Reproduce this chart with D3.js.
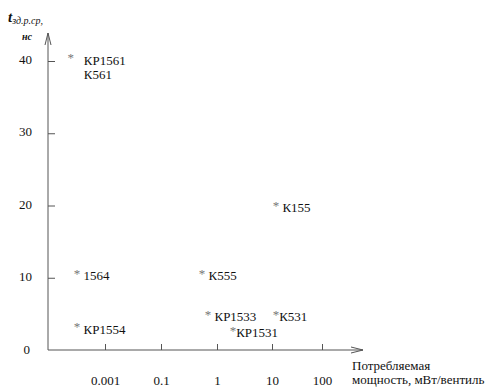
<!DOCTYPE html>
<html lang="ru">
<head>
<meta charset="utf-8">
<title>Задержка и потребляемая мощность серий ИС</title>
<script src="https://cdnjs.cloudflare.com/ajax/libs/d3/7.8.5/d3.min.js"></script>
<style>
  body { margin: 0; background: #fff; }
  svg { font-family: "Liberation Serif", "Times New Roman", serif; }
  .chip { white-space: pre; font-size: 13px; fill: #111; }
  .axis text { font-family: "Liberation Serif", "Times New Roman", serif; font-size: 13px; fill: #111; }
  .axis line { stroke: #555; }
</style>
</head>
<body>
<div class="chart"></div>
<script>
// x axis: power, mW per gate (axis is not a true log scale, ticks are evenly spaced)
var powerTicks = [0.001, 0.1, 1, 10, 100];
var powerTickLabels = ["0.001", "0.1", "1", "10", "100"];
// y axis: propagation delay, ns
var delayTicks = [0, 10, 20, 30, 40];

// chip series, as labelled on the chart
var chips = ["*   КР1561\n     К561", "* 1564", "* КР1554", "* К555", "* КР1533", "*КР1531", "*К531", "* К155"];
var power = [0.00006, 0.0001, 0.0001, 0.54, 0.69, 1.95, 12, 12];
var delay = [40.5, 10.7, 3.3, 10.7, 5, 2.8, 5, 20.1];

var svgWidth = 487;
var svgHeight = 392;

var svg = d3.select(".chart")
  .append("svg")
  .attr("width", svgWidth)
  .attr("height", svgHeight);

var originX = 48, originY = 350;

// piecewise log scale so the ticks land where the drawing put them
var x = d3.scaleLog()
  .domain(powerTicks)
  .range([105, 161, 217, 272, 322]);

var y = d3.scaleLinear()
  .domain([0, 40])
  .range([originY, 61]);

// arrow heads
var defs = svg.append("defs");
defs.append("marker")
  .attr("id", "arrow")
  .attr("viewBox", "0 -4 12 8")
  .attr("refX", 12).attr("refY", 0)
  .attr("markerWidth", 12).attr("markerHeight", 8)
  .attr("markerUnits", "userSpaceOnUse")
  .attr("orient", "auto")
  .append("path")
  .attr("d", "M0,-3L12,0L0,3")
  .attr("fill", "none")
  .attr("stroke", "#555")
  .attr("stroke-width", 1);

// axes
var xAxis = d3.axisBottom(x)
  .tickValues(powerTicks)
  .tickFormat((d, i) => powerTickLabels[i])
  .tickSizeInner(-6)
  .tickSizeOuter(0)
  .tickPadding(26);

var yAxis = d3.axisLeft(y)
  .tickValues(delayTicks.filter(d => d > 0))
  .tickSizeInner(-7)
  .tickSizeOuter(0)
  .tickPadding(16);

var gx = svg.append("g")
  .attr("class", "axis")
  .attr("transform", `translate(0, ${originY})`)
  .call(xAxis);
gx.select(".domain").remove();

var gy = svg.append("g")
  .attr("class", "axis")
  .attr("transform", `translate(${originX}, 0)`)
  .call(yAxis);
gy.select(".domain").remove();
gy.selectAll("text").attr("dy", "0.2em");

// origin label
svg.append("text")
  .attr("x", originX - 18)
  .attr("y", y(0))
  .attr("dy", "0.32em")
  .attr("text-anchor", "end")
  .attr("font-size", 13)
  .attr("fill", "#111")
  .text(delayTicks[0]);

// axis lines with arrows
svg.append("line")
  .attr("x1", originX).attr("y1", originY)
  .attr("x2", 363).attr("y2", originY)
  .attr("stroke", "#555")
  .attr("marker-end", "url(#arrow)");

svg.append("line")
  .attr("x1", originX).attr("y1", originY)
  .attr("x2", originX).attr("y2", 33)
  .attr("stroke", "#555")
  .attr("marker-end", "url(#arrow)");

// y axis title
var yTitle = svg.append("text")
  .attr("x", 8)
  .attr("y", 22)
  .attr("fill", "#111");
yTitle.append("tspan")
  .attr("font-size", 15)
  .attr("font-weight", "bold")
  .attr("font-style", "italic")
  .text("t");
yTitle.append("tspan")
  .attr("font-size", 10)
  .attr("font-style", "italic")
  .attr("dy", 2)
  .text("зд.р.ср,");

svg.append("text")
  .attr("x", 22)
  .attr("y", 40)
  .attr("font-size", 10)
  .attr("font-style", "italic")
  .attr("font-weight", "bold")
  .attr("fill", "#111")
  .text("нс");

// x axis title
var xTitle = svg.append("text")
  .attr("font-size", 13)
  .attr("fill", "#111");
xTitle.append("tspan")
  .attr("x", 352).attr("y", 370)
  .text("Потребляемая");
xTitle.append("tspan")
  .attr("x", 352).attr("y", 384)
  .text("мощность, мВт/вентиль");

// points: asterisk (raised a little, as in the drawing) + label
chips.forEach(function (label, i) {
  var cx = x(power[i]);
  var cy = y(delay[i]);
  var t = svg.append("text")
    .attr("class", "chip")
    .attr("xml:space", "preserve")
    .attr("x", cx - 3.25)
    .attr("y", cy + 7.5);
  var lines = label.split("\n");
  t.append("tspan")
    .attr("fill", "#777")
    .attr("dy", -2.5)
    .text(lines[0].charAt(0));
  t.append("tspan")
    .attr("dy", 2.5)
    .text(lines[0].slice(1));
  lines.slice(1).forEach(function (line) {
    t.append("tspan")
      .attr("x", cx - 3.25)
      .attr("dy", 14)
      .text(line);
  });
});
</script>
</body>
</html>
